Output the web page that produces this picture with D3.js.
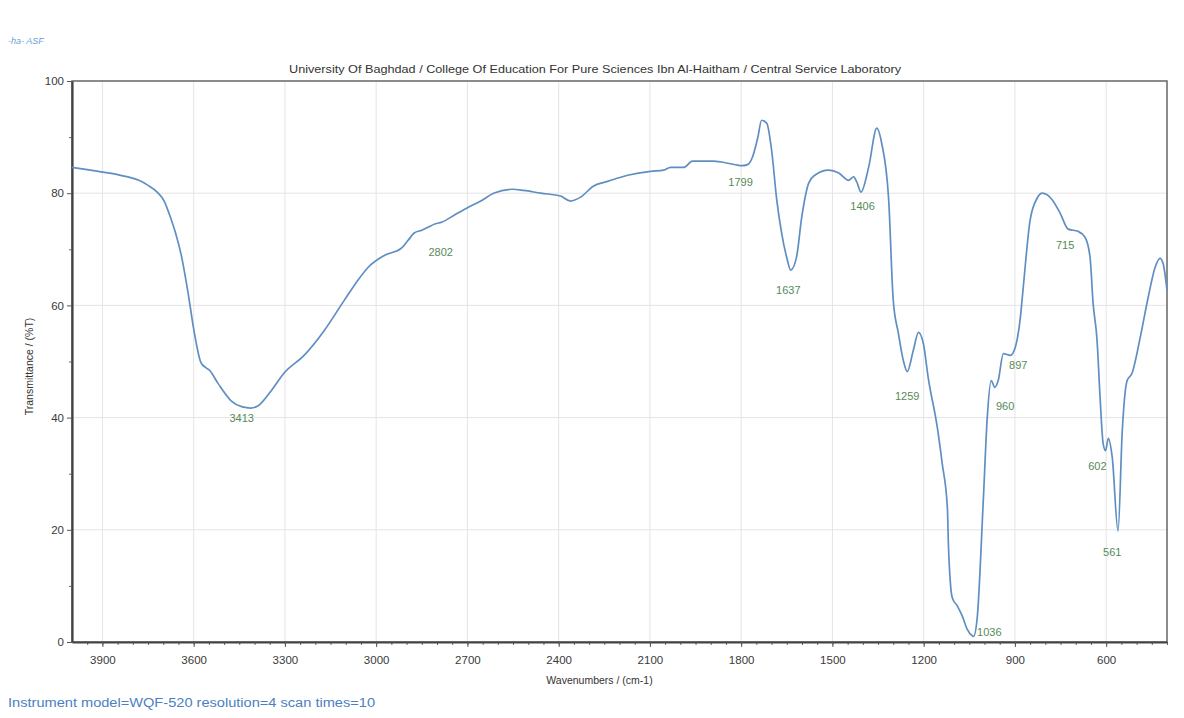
<!DOCTYPE html>
<html>
<head>
<meta charset="utf-8">
<script src="https://cdn.jsdelivr.net/npm/d3@7"></script>
<style>
  body { margin: 0; background: #fff; }
  text { font-family: "Liberation Sans", Arial, sans-serif; }
</style>
</head>
<body>
<svg id="chart"></svg>
<script>
// spectrum (wavenumber cm-1 / %T)
const wavenumbers = [4000, 3950, 3905, 3850, 3816, 3780, 3750, 3720, 3697, 3675, 3660, 3641, 3618, 3599, 3576, 3560, 3549, 3520, 3477, 3440, 3413, 3388, 3345, 3302, 3237, 3171, 3105, 3060, 3026, 2973, 2917, 2895, 2875, 2850, 2802, 2786, 2740, 2697, 2656, 2614, 2551, 2515, 2459, 2394, 2361, 2328, 2285, 2239, 2173, 2098, 2055, 2032, 1989, 1960, 1891, 1840, 1812, 1799, 1779, 1763, 1745, 1733, 1716, 1700, 1683, 1667, 1650, 1637, 1618, 1601, 1578, 1558, 1512, 1479, 1447, 1430, 1420, 1406, 1381, 1354, 1338, 1315, 1300, 1283, 1267, 1254, 1234, 1217, 1201, 1185, 1155, 1139, 1122, 1119, 1112, 1106, 1089, 1073, 1057, 1040, 1036, 1024, 1004, 991, 978, 966, 955, 938, 915, 899, 882, 873, 850, 827, 810, 777, 751, 725, 692, 669, 653, 643, 630, 620, 610, 602, 593, 580, 561, 547, 537, 531, 515, 488, 462, 439, 423, 413, 400];
const transmittance = [84.6, 84.2, 83.8, 83.3, 82.9, 82.3, 81.4, 80.2, 78.6, 75.5, 73.0, 69.0, 62.1, 55.5, 49.8, 48.9, 48.5, 46.1, 43.0, 41.9, 41.7, 42.1, 44.8, 48.0, 51.1, 55.5, 60.9, 64.5, 66.8, 68.9, 70.2, 71.6, 72.9, 73.4, 74.6, 74.8, 76.2, 77.5, 78.6, 80.0, 80.7, 80.5, 80.0, 79.5, 78.6, 79.3, 81.3, 82.1, 83.2, 83.9, 84.1, 84.6, 84.6, 85.7, 85.7, 85.3, 85.0, 84.9, 85.1, 86.4, 90.0, 93.0, 92.5, 87.7, 78.8, 72.9, 68.5, 66.3, 68.6, 75.7, 81.8, 83.2, 84.1, 83.6, 82.3, 82.9, 82.0, 80.2, 84.6, 91.6, 88.9, 78.8, 60.9, 55.0, 50.2, 48.2, 52.0, 55.2, 53.2, 47.1, 38.2, 31.8, 23.9, 18.0, 10.4, 7.9, 6.4, 4.6, 2.3, 1.1, 1.0, 4.3, 25.2, 40.0, 46.6, 45.4, 46.6, 51.4, 51.1, 52.5, 57.9, 63.0, 75.2, 79.1, 80.0, 78.8, 76.4, 73.6, 73.2, 72.1, 68.6, 60.4, 53.8, 43.6, 35.4, 34.1, 36.3, 32.9, 19.8, 37.7, 44.8, 46.6, 47.9, 54.3, 61.4, 66.8, 68.4, 67.5, 62.7];

// peak labels and where their text sits, in data units
const peakNames = ["3413", "2802", "1799", "1637", "1406", "1259", "960", "897", "1036", "715", "602", "561"];
const peakTextWn = [3442, 2788, 1802, 1645, 1401, 1254, 932, 889, 984, 735, 629, 580];
const peakTextT = [39.8, 69.3, 81.8, 62.5, 77.5, 43.6, 41.8, 49.1, 1.6, 70.5, 31.1, 15.9];

const xTicks = [3900, 3600, 3300, 3000, 2700, 2400, 2100, 1800, 1500, 1200, 900, 600];
const yTicks = [0, 20, 40, 60, 80, 100];

const W = 1184, H = 718;
const margin = { top: 81, right: 17, bottom: 76, left: 72 };
const width = W - margin.left - margin.right,
      height = H - margin.top - margin.bottom;

const svg = d3.select("#chart").attr("width", W).attr("height", H);

const x = d3.scaleLinear().domain([4000, 400]).range([0, width]);
const y = d3.scaleLinear().domain([0, 100]).range([height, 0]);

const g = svg.append("g").attr("transform", "translate(" + margin.left + "," + margin.top + ")");

// grid
g.append("g").selectAll("line").data(xTicks).enter().append("line")
    .attr("x1", d => x(d)).attr("x2", d => x(d))
    .attr("y1", 0).attr("y2", height)
    .attr("stroke", "#e4e4e4").attr("stroke-width", 1);
g.append("g").selectAll("line").data(yTicks.slice(1, -1)).enter().append("line")
    .attr("x1", 0).attr("x2", width)
    .attr("y1", d => y(d)).attr("y2", d => y(d))
    .attr("stroke", "#e4e4e4").attr("stroke-width", 1);

// frame
g.append("rect").attr("width", width).attr("height", height)
    .attr("fill", "none").attr("stroke", "#666").attr("stroke-width", 1.5);

// minor ticks
const xMinor = d3.range(3950, 399, -50);
g.append("g").attr("transform", "translate(0," + height + ")")
    .call(d3.axisBottom(x).tickValues(xMinor).tickSize(3).tickFormat(""))
    .call(a => a.select(".domain").remove())
    .selectAll("line").attr("stroke", "#666");
g.append("g")
    .call(d3.axisLeft(y).tickValues(d3.range(10, 100, 20)).tickSize(3).tickFormat(""))
    .call(a => a.select(".domain").remove())
    .selectAll("line").attr("stroke", "#666");

// axes
const xAxis = g.append("g").attr("transform", "translate(0," + height + ")")
    .call(d3.axisBottom(x).tickValues(xTicks).tickFormat(d3.format("d"))
        .tickSize(5).tickSizeOuter(0).tickPadding(9));
const yAxis = g.append("g")
    .call(d3.axisLeft(y).tickValues(yTicks).tickFormat(d3.format("d"))
        .tickSize(5).tickSizeOuter(0).tickPadding(3));
[xAxis, yAxis].forEach(a => {
    a.select(".domain").attr("stroke", "#444").attr("stroke-width", 2.2);
    a.selectAll("line").attr("stroke", "#555");
    a.selectAll("text").attr("fill", "#3a3a3a").style("font-size", "11.5px");
});

// spectrum
const spectrum = wavenumbers.map((w, i) => ({ w: w, t: transmittance[i] }));
const line = d3.line().x(d => x(d.w)).y(d => y(d.t)).curve(d3.curveMonotoneX);
g.append("path").datum(spectrum)
    .attr("fill", "none").attr("stroke", "#5f8fc2")
    .attr("stroke-width", 1.7).attr("stroke-linejoin", "round")
    .attr("d", line);

// peak labels
g.append("g").selectAll("text").data(peakNames).enter().append("text")
    .attr("x", (d, i) => x(peakTextWn[i]))
    .attr("y", (d, i) => y(peakTextT[i]))
    .attr("text-anchor", "middle").attr("dominant-baseline", "middle")
    .attr("fill", "#558a58").style("font-size", "11px")
    .text(d => d);

// texts
svg.append("text").attr("x", 595).attr("y", 73).attr("text-anchor", "middle")
    .attr("fill", "#333").style("font-size", "10.5px")
    .attr("textLength", 612).attr("lengthAdjust", "spacingAndGlyphs")
    .text("University Of Baghdad / College Of Education For Pure Sciences Ibn Al-Haitham / Central Service Laboratory");

svg.append("text").attr("x", margin.left + width / 2 - 20).attr("y", 684).attr("text-anchor", "middle")
    .attr("fill", "#333").style("font-size", "10.5px")
    .text("Wavenumbers / (cm-1)");

svg.append("text")
    .attr("transform", "translate(33," + (margin.top + height / 2 + 5) + ") rotate(-90)")
    .attr("text-anchor", "middle").attr("fill", "#333").style("font-size", "10.5px")
    .text("Transmittance / (%T)");

svg.append("text").attr("x", 8).attr("y", 44)
    .attr("fill", "#6b9fd6").style("font-size", "9px").style("font-style", "italic")
    .text("-ha- ASF");

svg.append("text").attr("x", 8).attr("y", 707)
    .attr("fill", "#4b80c2").style("font-size", "12.5px")
    .attr("textLength", 367).attr("lengthAdjust", "spacingAndGlyphs")
    .text("Instrument model=WQF-520 resolution=4 scan times=10");
</script>
</body>
</html>
